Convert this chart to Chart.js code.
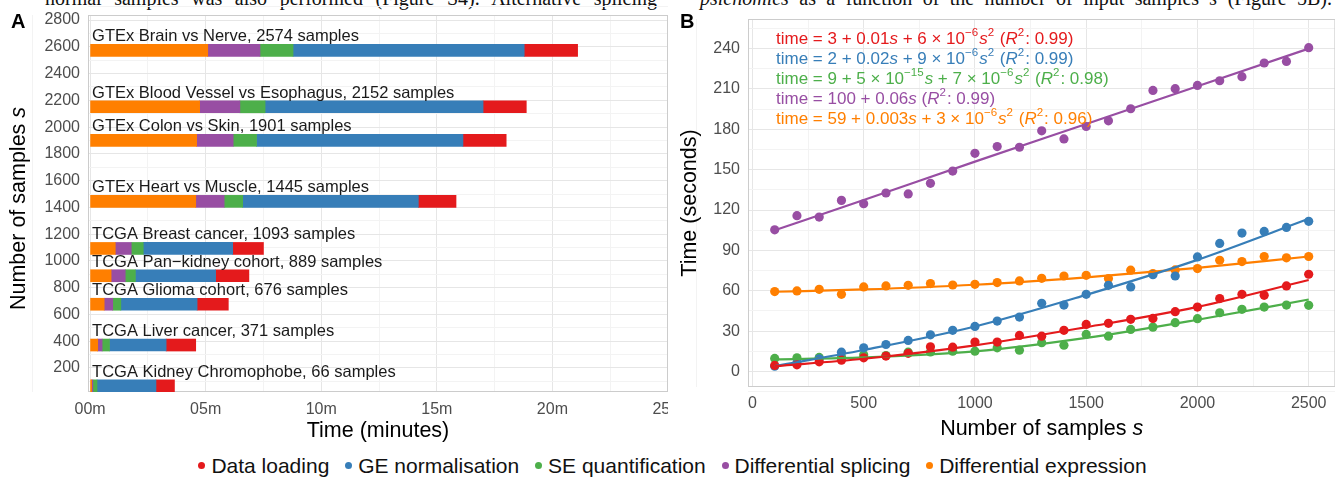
<!DOCTYPE html>
<html>
<head>
<meta charset="utf-8">
<script src="https://cdn.jsdelivr.net/npm/chart.js@4.4.1/dist/chart.umd.min.js"></script>
<style>
  html, body { margin: 0; padding: 0; background: #fff; }
  body { position: relative; width: 1335px; height: 478px; overflow: hidden;
         font-family: "Liberation Sans", Arial, sans-serif; }
  #chartA { position: absolute; left: 0; top: 0; }
  #chartB { position: absolute; left: 668px; top: 0; }
  .paper { position: absolute; top: -12px; font-family: "Liberation Serif", serif; font-size: 20px;
           line-height: 20px; color: #111; text-align: justify; text-align-last: justify; }
  #legend { position: absolute; left: 0; top: 454px; width: 1335px; text-align: center;
            font-size: 21px; color: #111; white-space: nowrap; }
  #legend .dot { display: inline-block; width: 7px; height: 7px; border-radius: 50%;
                 margin: 0 6px 3px 10px; vertical-align: middle; }
</style>
</head>
<body>
<div class="paper" style="left:45px;width:612px">normal samples was also performed (Figure S4). Alternative splicing</div>
<div class="paper" style="left:700px;width:632px"><i>psichomics</i> as a function of the number of input samples <i>s</i> (Figure 5B).</div>
<canvas id="chartA" width="668" height="445"></canvas>
<canvas id="chartB" width="672" height="445"></canvas>
<div id="legend"></div>
<script>
// ---- shared ----
const stepNames = ['Data loading', 'GE normalisation', 'SE quantification', 'Differential splicing', 'Differential expression'];
const stepColors = ['#E41A1C', '#377EB8', '#4DAF4A', '#984EA3', '#FF7F00'];

// ---- panel A: run time per dataset (minutes), bars placed at sample count ----
const cohortNames = ['GTEx Brain vs Nerve', 'GTEx Blood Vessel vs Esophagus', 'GTEx Colon vs Skin',
  'GTEx Heart vs Muscle', 'TCGA Breast cancer', 'TCGA Pan\u2212kidney cohort', 'TCGA Glioma cohort',
  'TCGA Liver cancer', 'TCGA Kidney Chromophobe'];
const cohortSamples = [2574, 2152, 1901, 1445, 1093, 889, 676, 371, 66];
const minDiffExpr = [5.09, 4.74, 4.61, 4.57, 1.09, 0.91, 0.61, 0.33, 0.07];
const minDiffSplice = [2.26, 1.74, 1.58, 1.23, 0.69, 0.61, 0.37, 0.19, 0.05];
const minSeQuant = [1.43, 1.09, 1.01, 0.80, 0.52, 0.44, 0.35, 0.32, 0.18];
const minGeNorm = [10.0, 9.43, 8.93, 7.60, 3.87, 3.47, 3.30, 2.45, 2.55];
const minDataLoad = [2.31, 1.87, 1.87, 1.63, 1.33, 1.44, 1.35, 1.28, 0.80];
const aXTicks = [0, 5, 10, 15, 20, 25];
const aXLabels = ['00m', '05m', '10m', '15m', '20m', '25m'];
const aYTicks = [200, 400, 600, 800, 1000, 1200, 1400, 1600, 1800, 2000, 2200, 2400, 2600, 2800];

// ---- panel B: time (seconds) vs number of samples ----
const sampleSizes = [100, 200, 300, 400, 500, 600, 700, 800, 900, 1000, 1100, 1200, 1300,
  1400, 1500, 1600, 1700, 1800, 1900, 2000, 2100, 2200, 2300, 2400, 2500];
const secDataLoad = [4.5, 5.0, 7.2, 8.4, 10.2, 11.5, 13.5, 18.4, 18.1, 21.9, 21.9, 26.8, 26.3,
  30.6, 35.0, 35.8, 38.8, 39.5, 44.5, 47.9, 54.2, 57.4, 56.6, 63.6, 72.3];
const secGeNorm = [4.0, 6.5, 9.5, 14.4, 17.6, 20.1, 23.1, 27.3, 30.6, 33.5, 37.5, 40.5, 50.7,
  49.4, 57.4, 64.1, 62.9, 72.0, 71.0, 85.2, 95.2, 102.9, 104.1, 107.1, 111.6];
const secSeQuant = [9.7, 10.2, 10.5, 10.9, 12.5, 11.9, 14.4, 14.6, 15.1, 15.1, 17.6, 15.9, 21.4,
  19.6, 27.6, 26.3, 31.3, 33.0, 36.3, 39.3, 43.7, 46.2, 47.9, 49.4, 49.2];
const secDiffSplice = [105.3, 115.8, 114.8, 127.2, 124.7, 132.7, 132.0, 139.9, 149.0, 162.2, 167.2,
  166.7, 178.9, 172.9, 182.1, 186.3, 195.3, 208.9, 210.2, 212.6, 216.1, 219.1, 229.3, 230.5, 240.7];
const secDiffExpr = [59.4, 59.9, 61.1, 57.4, 62.9, 63.6, 64.1, 65.4, 64.3, 64.8, 66.1, 67.3, 69.3,
  71.0, 71.5, 69.1, 75.3, 72.8, 75.5, 76.5, 82.7, 81.7, 85.5, 84.5, 85.5];
// fitted curves
const fitSizes = [100, 500, 1000, 1500, 2000, 2500];
const fitDataLoad = [4.0, 9.5, 19.5, 33.0, 48.0, 68.0];
const fitGeNorm = [4.0, 16.0, 33.5, 57.0, 83.0, 113.5];
const fitSeQuant = [9.0, 10.5, 15.0, 25.0, 38.5, 53.5];
const fitDiffSplice = [105.0, 127.5, 156.0, 184.0, 212.0, 240.0];
const fitDiffExpr = [59.3, 61.0, 64.5, 70.0, 77.0, 85.5];
const bXTicks = [0, 500, 1000, 1500, 2000, 2500];
const bYTicks = [0, 30, 60, 90, 120, 150, 180, 210, 240];
const fitEquations = [
  [['time = 3 + 0.01'], ['s', 'i'], [' + 6 \u00d7 10'], ['\u22126', 'u'], ['s', 'i'], ['2', 'u'], [' ('], ['R', 'i'], ['2', 'u'], [': 0.99)']],
  [['time = 2 + 0.02'], ['s', 'i'], [' + 9 \u00d7 10'], ['\u22126', 'u'], ['s', 'i'], ['2', 'u'], [' ('], ['R', 'i'], ['2', 'u'], [': 0.99)']],
  [['time = 9 + 5 \u00d7 10'], ['\u221215', 'u'], ['s', 'i'], [' + 7 \u00d7 10'], ['\u22126', 'u'], ['s', 'i'], ['2', 'u'], [' ('], ['R', 'i'], ['2', 'u'], [': 0.98)']],
  [['time = 100 + 0.06'], ['s', 'i'], [' ('], ['R', 'i'], ['2', 'u'], [': 0.99)']],
  [['time = 59 + 0.003'], ['s', 'i'], [' + 3 \u00d7 10'], ['\u22126', 'u'], ['s', 'i'], ['2', 'u'], [' ('], ['R', 'i'], ['2', 'u'], [': 0.96)']]
];

const FONT = '"Liberation Sans", Arial, sans-serif';
const GRID_MAJOR = '#e6e6e6';
const GRID_MINOR = '#f3f3f3';

// major + minor (half-step) tick list
function withMinor(major) {
  const step = major[1] - major[0];
  const out = [major[0] - step / 2];
  major.forEach(v => { out.push(v); out.push(v + step / 2); });
  return out;
}

// draws a run of text parts: [text, 'i' italic | 'u' superscript]
function drawParts(ctx, x, y, parts, size) {
  let cx = x;
  parts.forEach(([t, kind]) => {
    const sup = kind === 'u';
    ctx.font = (kind === 'i' ? 'italic ' : '') + (sup ? size * 0.68 : size) + 'px ' + FONT;
    ctx.fillText(t, cx, sup ? y - size * 0.45 : y);
    cx += ctx.measureText(t).width + (sup ? 1 : 0);
  });
  return cx - x;
}

function measureParts(ctx, parts, size) {
  let w = 0;
  parts.forEach(([t, kind]) => {
    ctx.font = (kind === 'i' ? 'italic ' : '') + size + 'px ' + FONT;
    w += ctx.measureText(t).width;
  });
  return w;
}

function drawRotated(ctx, x, y, parts, size) {
  ctx.save();
  ctx.translate(x, y);
  ctx.rotate(-Math.PI / 2);
  ctx.textBaseline = 'middle';
  const w = measureParts(ctx, parts, size);
  drawParts(ctx, -w / 2, 0, parts, size);
  ctx.restore();
}

function drawCentered(ctx, x, y, parts, size) {
  ctx.textBaseline = 'middle';
  const w = measureParts(ctx, parts, size);
  drawParts(ctx, x - w / 2, y, parts, size);
}

const panelFrame = {
  id: 'panelFrame',
  beforeDatasetsDraw(chart) {
    const { ctx, chartArea: a } = chart;
    ctx.save();
    ctx.strokeStyle = '#cccccc';
    ctx.lineWidth = 1;
    ctx.strokeRect(a.left + 0.5, a.top + 0.5, a.right - a.left - 1, a.bottom - a.top - 1);
    ctx.restore();
  }
};

function gridColor(major) {
  return c => (c.tick && major.includes(c.tick.value)) ? GRID_MAJOR : GRID_MINOR;
}

// ---- build panel A ----
const stepsLeftToRight = [
  { name: 'Differential expression', values: minDiffExpr },
  { name: 'Differential splicing', values: minDiffSplice },
  { name: 'SE quantification', values: minSeQuant },
  { name: 'GE normalisation', values: minGeNorm },
  { name: 'Data loading', values: minDataLoad }
];
const runningStart = cohortSamples.map(() => 0);
const barSets = stepsLeftToRight.map(step => {
  const data = cohortSamples.map((s, i) => {
    const from = runningStart[i];
    runningStart[i] += step.values[i];
    return { y: s, x: [from, runningStart[i]] };
  });
  return {
    label: step.name,
    data: data,
    backgroundColor: stepColors[stepNames.indexOf(step.name)],
    borderWidth: 0,
    barThickness: 12,
    grouped: false
  };
});

const panelAText = {
  id: 'panelAText',
  afterDraw(chart) {
    const { ctx, scales: { x, y } } = chart;
    ctx.save();
    ctx.fillStyle = '#1a1a1a';
    ctx.textBaseline = 'alphabetic';
    ctx.font = '16.5px ' + FONT;
    cohortNames.forEach((name, i) => {
      ctx.fillText(name + ', ' + cohortSamples[i] + ' samples', x.getPixelForValue(0) + 2,
        y.getPixelForValue(cohortSamples[i]) - 9);
    });
    ctx.fillStyle = '#000';
    ctx.font = 'bold 20px ' + FONT;
    ctx.textBaseline = 'middle';
    ctx.fillText('A', 11, 22);
    drawRotated(ctx, 19, (chart.chartArea.top + chart.chartArea.bottom) / 2 + 5,
      [['Number of samples '], ['s', 'i']], 21.5);
    drawCentered(ctx, (chart.chartArea.left + chart.chartArea.right) / 2, 431, [['Time (minutes)']], 21.5);
    ctx.restore();
  }
};

new Chart(document.getElementById('chartA'), {
  type: 'bar',
  data: { datasets: barSets },
  options: {
    responsive: false,
    animation: false,
    indexAxis: 'y',
    layout: { padding: { top: 15, left: 0, right: 0, bottom: 0 } },
    plugins: { legend: { display: false }, tooltip: { enabled: false } },
    scales: {
      x: {
        type: 'linear', min: -0.09, max: 25,
        afterBuildTicks: s => { s.ticks = withMinor(aXTicks).map(v => ({ value: v })); },
        afterFit: s => { s.height = 53; s.paddingRight = 0; s.paddingLeft = 0; },
        ticks: {
          autoSkip: false, maxRotation: 0, padding: 8, color: '#4d4d4d',
          font: { family: FONT, size: 16 },
          callback: v => { const k = aXTicks.indexOf(v); return k >= 0 ? aXLabels[k] : ''; }
        },
        grid: { color: gridColor(aXTicks), drawTicks: false, lineWidth: 1 },
        border: { display: false }
      },
      y: {
        type: 'linear', min: 20, max: 2838, offset: false,
        afterBuildTicks: s => { s.ticks = withMinor(aYTicks).map(v => ({ value: v })); },
        afterFit: s => { s.width = 88; s.paddingTop = 0; s.paddingBottom = 0; },
        ticks: {
          autoSkip: false, padding: 8, color: '#4d4d4d',
          font: { family: FONT, size: 16 },
          callback: v => aYTicks.includes(v) ? String(v) : ''
        },
        grid: { color: gridColor(aYTicks), drawTicks: false, lineWidth: 1, offset: false },
        border: { display: false }
      }
    }
  },
  plugins: [panelFrame, panelAText]
});

// ---- build panel B ----
const seriesB = [secDataLoad, secGeNorm, secSeQuant, secDiffSplice, secDiffExpr];
const fitsB = [fitDataLoad, fitGeNorm, fitSeQuant, fitDiffSplice, fitDiffExpr];
const lineSets = fitsB.map((vals, k) => ({
  type: 'line',
  label: stepNames[k] + ' fit',
  data: fitSizes.map((s, i) => ({ x: s, y: vals[i] })),
  borderColor: stepColors[k],
  borderWidth: 2.2,
  pointRadius: 0,
  tension: 0.4,
  cubicInterpolationMode: 'monotone',
  fill: false
}));
const pointSets = seriesB.map((vals, k) => ({
  type: 'scatter',
  label: stepNames[k],
  data: sampleSizes.map((s, i) => ({ x: s, y: vals[i] })),
  backgroundColor: stepColors[k],
  borderWidth: 0,
  pointRadius: 4.6
}));

const panelBText = {
  id: 'panelBText',
  afterDraw(chart) {
    const { ctx, chartArea: a } = chart;
    ctx.save();
    ctx.textBaseline = 'alphabetic';
    fitEquations.forEach((parts, k) => {
      ctx.fillStyle = stepColors[k];
      drawParts(ctx, 108, 44 + k * 20, parts, 17);
    });
    ctx.fillStyle = '#000';
    ctx.font = 'bold 20px ' + FONT;
    ctx.textBaseline = 'middle';
    ctx.fillText('B', 12, 22);
    drawRotated(ctx, 22, (a.top + a.bottom) / 2, [['Time (seconds)']], 21.5);
    drawCentered(ctx, (a.left + a.right) / 2, 429, [['Number of samples '], ['s', 'i']], 21.5);
    ctx.restore();
  }
};

new Chart(document.getElementById('chartB'), {
  type: 'scatter',
  data: { datasets: lineSets.concat(pointSets) },
  options: {
    responsive: false,
    animation: false,
    layout: { padding: { top: 19, left: 0, right: 0, bottom: 0 } },
    plugins: { legend: { display: false }, tooltip: { enabled: false } },
    scales: {
      x: {
        type: 'linear', min: -20, max: 2620,
        afterBuildTicks: s => { s.ticks = withMinor(bXTicks).map(v => ({ value: v })); },
        afterFit: s => { s.height = 58; s.paddingRight = 0; s.paddingLeft = 0; },
        ticks: {
          autoSkip: false, maxRotation: 0, padding: 7, color: '#4d4d4d',
          font: { family: FONT, size: 16 },
          callback: v => bXTicks.includes(v) ? String(v) : ''
        },
        grid: { color: gridColor(bXTicks), drawTicks: false, lineWidth: 1 },
        border: { display: false }
      },
      y: {
        type: 'linear', min: -11.5, max: 262,
        afterBuildTicks: s => { s.ticks = withMinor(bYTicks).map(v => ({ value: v })); },
        afterFit: s => { s.width = 80; s.paddingTop = 0; s.paddingBottom = 0; },
        ticks: {
          autoSkip: false, padding: 8, color: '#4d4d4d',
          font: { family: FONT, size: 16 },
          callback: v => bYTicks.includes(v) ? String(v) : ''
        },
        grid: { color: gridColor(bYTicks), drawTicks: false, lineWidth: 1 },
        border: { display: false }
      }
    }
  },
  plugins: [panelFrame, panelBText]
});

// ---- shared legend ----
document.getElementById('legend').innerHTML = stepNames.map((n, k) =>
  '<span class="dot" style="background:' + stepColors[k] + '"></span>' + n).join(' ');
</script>
</body>
</html>
